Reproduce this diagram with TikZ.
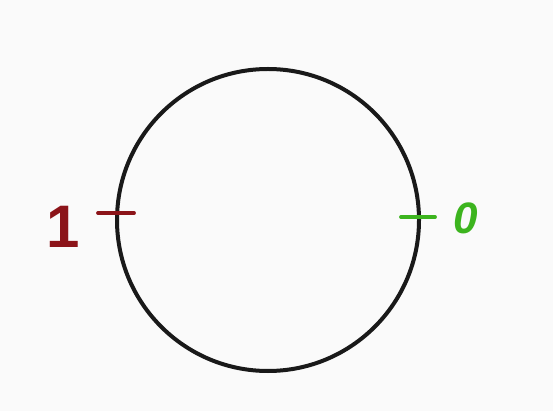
\documentclass[tikz,border=0pt]{standalone}
\usepackage{fontspec}
\setmainfont{Liberation Sans}
\definecolor{paper}{RGB}{250,250,250}
\definecolor{oneRed}{RGB}{140,20,25}
\definecolor{zeroGreen}{RGB}{60,180,30}
\tikzset{
  ring/.style={draw=black!90, line width=4pt},
  tick/.style={line width=3.8pt, line cap=round},
  digit/.style={inner sep=0pt, font=\bfseries\fontsize{42}{42}\selectfont}
}
\begin{document}
\begin{tikzpicture}[x=1pt,y=-1pt]
  \fill[paper] (0,0) rectangle (553,411);
  \useasboundingbox (0,0) rectangle (553,411);
  \node[ring, circle, minimum size=302pt, inner sep=0pt] (c) at (268,220) {};
  \coordinate (rl) at (98,213);
  \coordinate (rr) at (134,213);
  \coordinate (gl) at (401,217);
  \coordinate (gr) at (435,217);
  \draw[tick, oneRed] (rl) -- (rr);
  \draw[tick, zeroGreen] (gl) -- (gr);
  \node[digit, text=oneRed, font=\bfseries\fontsize{60}{60}\selectfont] (one) at (63,227) {1};
  \node[digit, text=zeroGreen, font=\bfseries\itshape\fontsize{44}{44}\selectfont] (zero) at (466,218) {0};
\end{tikzpicture}
\end{document}
